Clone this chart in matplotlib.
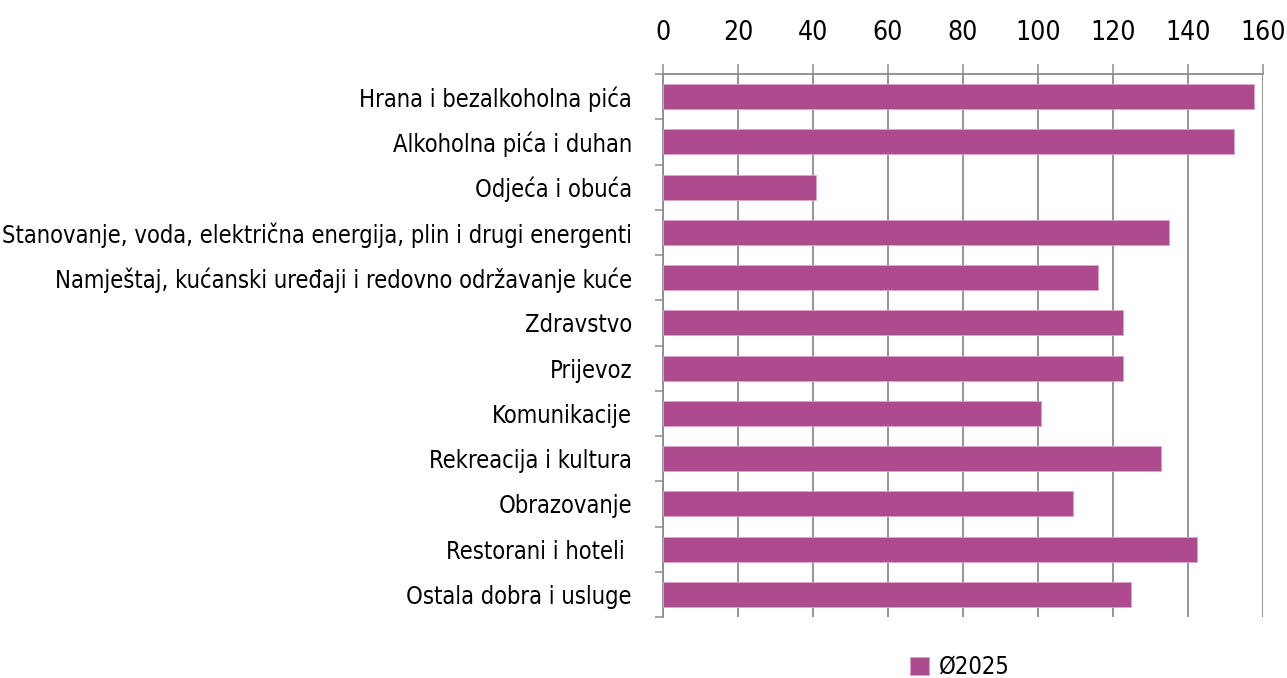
import matplotlib
matplotlib.use("Agg")
import matplotlib.pyplot as plt
from matplotlib import font_manager as fm

categories = [
    "Hrana i bezalkoholna pića",
    "Alkoholna pića i duhan",
    "Odjeća i obuća",
    "Stanovanje, voda, električna energija, plin i drugi energenti",
    "Namještaj, kućanski uređaji i redovno održavanje kuće",
    "Zdravstvo",
    "Prijevoz",
    "Komunikacije",
    "Rekreacija i kultura",
    "Obrazovanje",
    "Restorani i hoteli ",
    "Ostala dobra i usluge",
]
values = [157.5, 152.3, 40.9, 134.8, 116.1, 122.6, 122.7, 100.9, 132.8, 109.2, 142.5, 124.7]
series_name = "Ø2025"
xticks = [0, 20, 40, 60, 80, 100, 120, 140, 160]

names = {f.name for f in fm.fontManager.ttflist}
if "Liberation Sans Narrow" in names:
    fam = "Liberation Sans Narrow"
    stretch = "normal"
else:
    fam = "DejaVu Sans"
    stretch = "condensed"
plt.rcParams["font.family"] = [fam, "DejaVu Sans"]
plt.rcParams["font.stretch"] = stretch

color = "#AE4B8F"
grid = "#8C8C8C"
px = 72 / 100  # points per pixel

fig = plt.figure(figsize=(12.87, 6.78), dpi=100)
ax = fig.add_axes([663/1287, 1-617/678, 600/1287, 543/678])

n = len(categories)
ypos = list(range(n))
ax.barh(ypos, values, height=0.55, color=color, edgecolor="#D9A6C9", linewidth=0.6, zorder=3, label=series_name)
ax.set_ylim(n - 0.5, -0.5)
ax.set_xlim(0, 160)
ax.set_xticks(xticks)
ax.xaxis.tick_top()
ax.tick_params(axis="x", length=10*px, width=1.5*px, color=grid, pad=18*px, labelsize=19)
ax.grid(axis="x", color=grid, linewidth=1.8*px, zorder=0)

ax.set_yticks(ypos)
ax.set_yticklabels(categories)
ax.set_yticks([i - 0.5 for i in range(n + 1)], minor=True)
ax.tick_params(axis="y", which="major", length=0, pad=31*px, labelsize=17)
ax.tick_params(axis="y", which="minor", length=8*px, width=1.5*px, color=grid)

for s in ["right", "bottom"]:
    ax.spines[s].set_visible(False)
for s in ["left", "top"]:
    ax.spines[s].set_color(grid)
    ax.spines[s].set_linewidth(1.8*px)

leg = fig.legend(loc="center", bbox_to_anchor=(960/1287, 1-667/678), frameon=False,
                 fontsize=17, handlelength=0.8, handleheight=0.8, handletextpad=0.4)

fig.savefig("out.png", dpi=100)
